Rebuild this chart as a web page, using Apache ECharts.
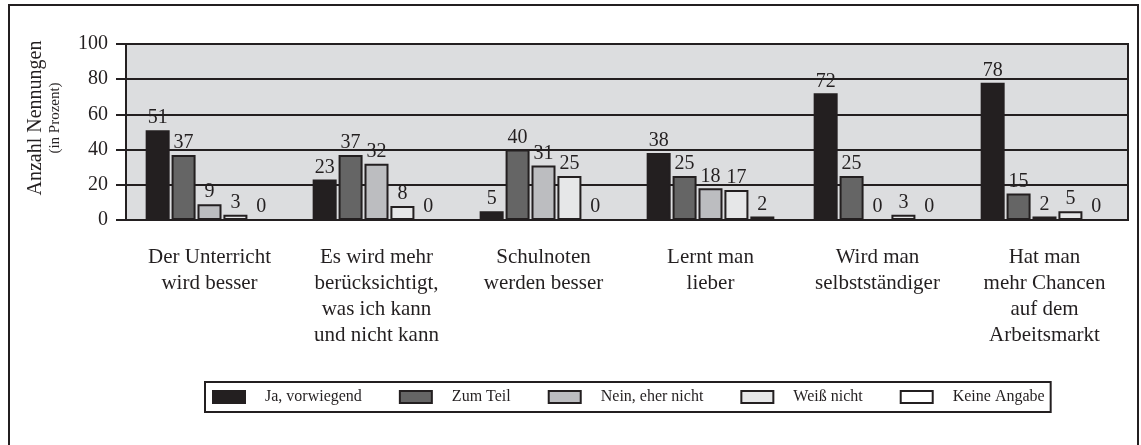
<!DOCTYPE html>
<html lang="de">
<head>
    <meta charset="UTF-8">
    <title>Anzahl Nennungen</title>
    <script src="https://cdn.jsdelivr.net/npm/echarts@6/dist/echarts.min.js"></script>
    <style>
        html, body { margin: 0; padding: 0; background: #fff; }
        #chart { width: 1141px; height: 445px; }
    </style>
</head>
<body>
    <div id="chart"></div>
    <script>
        // Kategorien und Werte (in Prozent)
        const categories = [
            'Der Unterricht\nwird besser',
            'Es wird mehr\nberücksichtigt,\nwas ich kann\nund nicht kann',
            'Schulnoten\nwerden besser',
            'Lernt man\nlieber',
            'Wird man\nselbstständiger',
            'Hat man\nmehr Chancen\nauf dem\nArbeitsmarkt'
        ];
        const seriesNames = ['Ja, vorwiegend', 'Zum Teil', 'Nein, eher nicht', 'Weiß nicht', 'Keine Angabe'];
        const jaVorwiegend = [51, 23, 5, 38, 72, 78];
        const zumTeil = [37, 37, 40, 25, 25, 15];
        const neinEherNicht = [9, 32, 31, 18, 0, 2];
        const weissNicht = [3, 8, 25, 17, 3, 5];
        const keineAngabe = [0, 0, 0, 2, 0, 0];
        const yTicks = { min: 0, max: 100, interval: 20 };

        const ink = '#231f20';
        const font = 'Liberation Serif, Times New Roman, serif';
        const colors = ['#231f20', '#656565', '#bcbdc0', '#e6e7e8', '#ffffff'];
        const values = [jaVorwiegend, zumTeil, neinEherNicht, weissNicht, keineAngabe];

        const chart = echarts.init(document.getElementById('chart'));

        const series = seriesNames.map((name, i) => ({
            name: name,
            type: 'bar',
            data: values[i],
            barWidth: 24,
            barGap: '8%',
            itemStyle: { color: colors[i], borderColor: ink, borderWidth: 2 },
            label: {
                show: true,
                position: 'top',
                distance: 2,
                fontFamily: font,
                fontSize: 20,
                color: ink
            }
        }));

        chart.setOption({
            animation: false,
            textStyle: { fontFamily: font },
            graphic: [{
                type: 'rect',
                shape: { x: 9, y: 5, width: 1129, height: 460 },
                style: { fill: 'none', stroke: ink, lineWidth: 2 },
                z: -1
            }],
            grid: {
                left: 126, right: 13, top: 44, bottom: 225,
                show: true,
                backgroundColor: '#dcdddf',
                borderColor: ink,
                borderWidth: 2
            },
            legend: {
                left: 205,
                top: 382,
                padding: [7, 6, 7, 7],
                borderColor: ink,
                borderWidth: 2,
                icon: 'rect',
                itemWidth: 32,
                itemHeight: 12,
                itemGap: 37,
                textStyle: { fontFamily: font, fontSize: 16, color: ink, padding: [0, 0, 0, 15] },
                data: seriesNames
            },
            xAxis: {
                type: 'category',
                data: categories,
                axisLine: { lineStyle: { color: ink, width: 2 } },
                axisTick: { show: false },
                axisLabel: {
                    margin: 24,
                    fontFamily: font,
                    fontSize: 21,
                    lineHeight: 26,
                    color: ink,
                    interval: 0
                }
            },
            yAxis: {
                type: 'value',
                min: yTicks.min,
                max: yTicks.max,
                interval: yTicks.interval,
                name: '{a|Anzahl Nennungen}\n{b|(in Prozent)}',
                nameLocation: 'middle',
                nameRotate: 90,
                nameGap: 62,
                nameTextStyle: {
                    padding: [0, 0, 0, 28],
                    rich: {
                        a: { fontFamily: font, fontSize: 20, lineHeight: 20, color: ink },
                        b: { fontFamily: font, fontSize: 15, lineHeight: 18, color: ink }
                    }
                },
                axisLine: { show: true, lineStyle: { color: ink, width: 2 } },
                axisTick: { show: true, length: 10, lineStyle: { color: ink, width: 2 } },
                axisLabel: { margin: 18, fontFamily: font, fontSize: 20, color: ink },
                splitLine: { show: true, lineStyle: { color: ink, width: 2 } }
            },
            series: series
        });
    </script>
</body>
</html>
